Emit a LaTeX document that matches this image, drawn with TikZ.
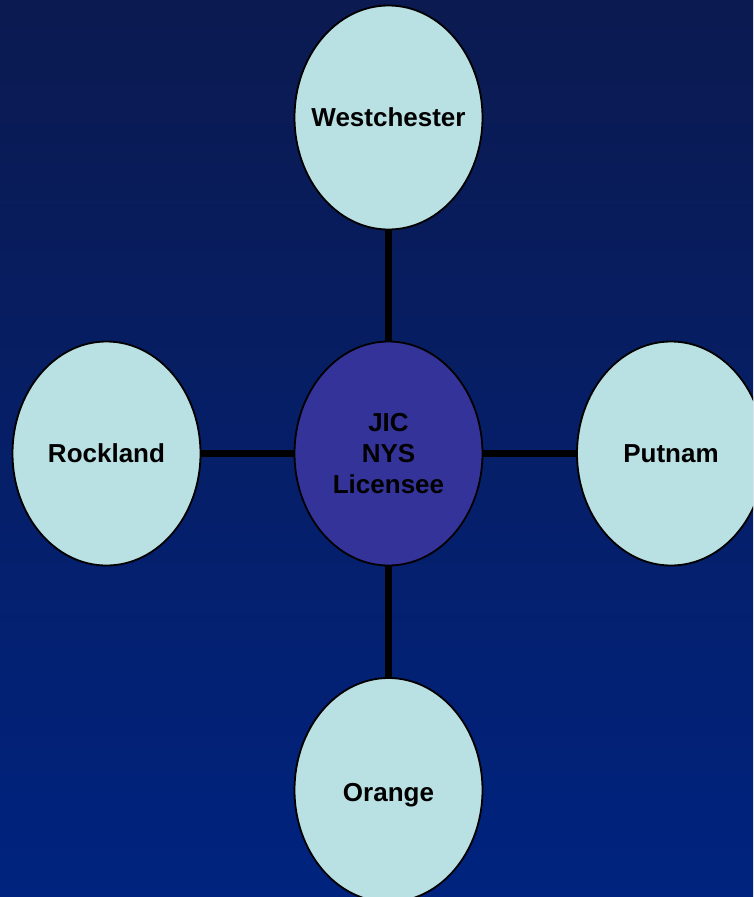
\documentclass[tikz,border=0pt]{standalone}
\usepackage{fontspec}
\setmainfont{Liberation Sans}
\usetikzlibrary{shapes.geometric}
\definecolor{bgtop}{HTML}{0B1A50}
\definecolor{bgbot}{HTML}{00237F}
\definecolor{cyanfill}{HTML}{B9E0E3}
\definecolor{purplefill}{HTML}{333399}
\tikzset{
  county/.style={ellipse, draw=black, line width=1.8pt, fill=cyanfill,
    minimum width=188pt, minimum height=224pt, inner sep=0pt,
    font=\fontsize{26}{31}\selectfont\bfseries, align=center, text=black},
  hub/.style={county, fill=purplefill},
  link/.style={draw=black, line width=6.5pt}
}
\begin{document}
\begin{tikzpicture}[x=1pt,y=-1pt]
\useasboundingbox (0,0) rectangle (753,897);
\clip (0,0) rectangle (753,897);
\shade[top color=bgtop, bottom color=bgbot] (0,0) rectangle (753,897);
\node[hub] (c) at (388.5,453.5) {JIC\\NYS\\Licensee};
\node[county] (w) at (388.5,117.5) {\makebox[0pt]{Westchester}};
\node[county] (r) at (106.5,453.5) {Rockland};
\node[county] (p) at (671,453.5) {Putnam};
\node[county] (o) at (388.5,790) {\raisebox{-2pt}[\height][0pt]{Orange}};
\draw[link] (c.north) -- (w.south);
\draw[link] (c.south) -- (o.north);
\draw[link] (c.west) -- (r.east);
\draw[link] (c.east) -- (p.west);
\end{tikzpicture}
\end{document}
